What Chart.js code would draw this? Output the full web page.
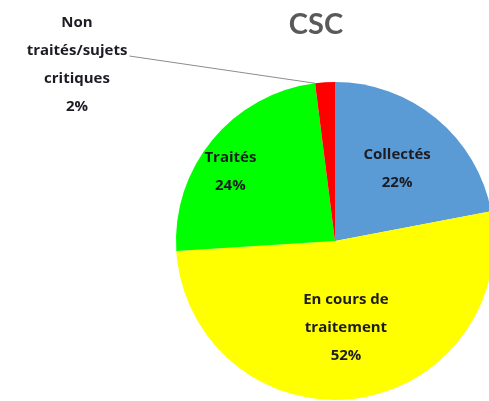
<!DOCTYPE html>
<html><head><meta charset="utf-8">
<script src="https://cdn.jsdelivr.net/npm/chart.js@4/dist/chart.umd.min.js"></script>
<style>
html,body{margin:0;padding:0;background:#fff;overflow:hidden;}
#wrap{position:relative;width:489px;height:401px;overflow:hidden;}
#c{position:absolute;left:0;top:0;}
</style></head>
<body><div id="wrap"><canvas id="c" width="520" height="420"></canvas></div>
<script>
const title = "CSC";
const categories = ["Collectés", "En cours de traitement", "Traités", "Non traités/sujets critiques"];
const values = [22, 52, 24, 2];
const labelLines = [["Collectés", "22%"], ["En cours de", "traitement", "52%"], ["Traités", "24%"], ["Non", "traités/sujets", "critiques", "2%"]];
const colors = ["#5B9BD5", "#FFFF00", "#00FF00", "#FF0000"];

// label placement: radial fraction & angle offset (deg) for inner labels; outside label absolute
const labelLayout = [
  {frac: 0.60, dAng: 1},
  {frac: 0.55, dAng: 0},
  {frac: 0.79, dAng: -6},
  {outside: true, x: 77, y: 23}
];
const FONT = "bold 15px 'Open Sans', sans-serif";
const LH = 28;

const labelPlugin = {
  id: 'labels',
  afterDatasetsDraw(chart) {
    const ctx = chart.ctx;
    const meta = chart.getDatasetMeta(0);
    ctx.save();
    // title
    ctx.fillStyle = '#595959';
    ctx.font = "bold 29px Lato, 'Open Sans', sans-serif";
    ctx.textAlign = 'center';
    ctx.textBaseline = 'middle';
    ctx.fillText(title, 316, 25);
    ctx.font = FONT;
    ctx.fillStyle = '#1c1c24';
    meta.data.forEach((arc, i) => {
      const p = arc.getProps(['x','y','startAngle','endAngle','outerRadius'], true);
      const lay = labelLayout[i];
      const lines = labelLines[i];
      let cx, cy;
      if (lay.outside) {
        cx = lay.x; cy = lay.y;
        // leader line
        const a = p.startAngle;
        const ex = p.x + p.outerRadius * Math.cos(a);
        const ey = p.y + p.outerRadius * Math.sin(a);
        ctx.strokeStyle = '#8c8c8c';
        ctx.lineWidth = 1;
        ctx.beginPath();
        ctx.moveTo(cx + ctx.measureText(lines[1]).width / 2 + 2, cy + LH + 5);
        ctx.lineTo(ex, ey);
        ctx.stroke();
        lines.forEach((t, k) => ctx.fillText(t, cx, cy + k * LH));
      } else {
        const mid = (p.startAngle + p.endAngle) / 2 + lay.dAng * Math.PI / 180;
        cx = p.x + p.outerRadius * lay.frac * Math.cos(mid);
        cy = p.y + p.outerRadius * lay.frac * Math.sin(mid);
        const y0 = cy - (lines.length - 1) * LH / 2;
        lines.forEach((t, k) => ctx.fillText(t, cx, y0 + k * LH));
      }
    });
    ctx.restore();
  }
};

new Chart(document.getElementById('c'), {
  type: 'pie',
  data: {
    labels: categories,
    datasets: [{data: values, backgroundColor: colors, borderWidth: 0}]
  },
  options: {
    responsive: false,
    animation: false,
    layout: {padding: {left: 176, top: 82, right: 26, bottom: 20}},
    plugins: {legend: {display: false}, tooltip: {enabled: false}, title: {display: false}}
  },
  plugins: [labelPlugin]
});
</script></body></html>
